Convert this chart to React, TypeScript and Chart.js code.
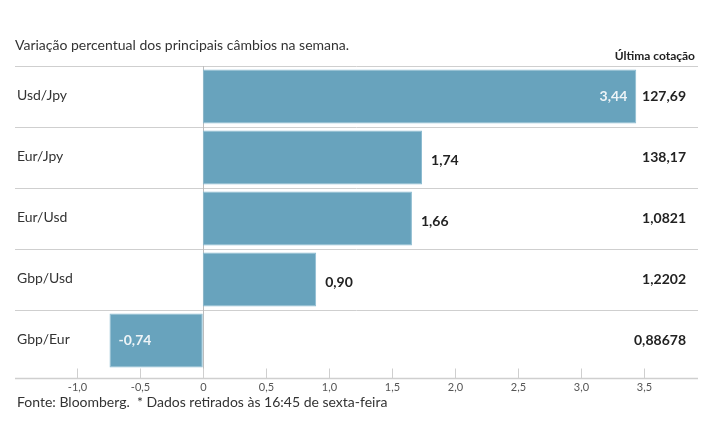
import React, { useEffect, useRef } from 'react';
import { Chart, registerables } from 'chart.js';

Chart.register(...registerables);

const title = 'Variação percentual dos principais câmbios na semana.';
const footer = 'Fonte: Bloomberg.  * Dados retirados às 16:45 de sexta-feira';
const quoteHeader = 'Última cotação';
const categories = ['Usd/Jpy', 'Eur/Jpy', 'Eur/Usd', 'Gbp/Usd', 'Gbp/Eur'];
const variation = [3.44, 1.74, 1.66, 0.9, -0.74];
const lastQuote = ['127,69', '138,17', '1,0821', '1,2202', '0,88678'];
const tickValues = [-1, -0.5, 0, 0.5, 1, 1.5, 2, 2.5, 3, 3.5];

const FONT = 'Lato, "Open Sans", sans-serif';
const BAR = '#68a3bd';

const fmt = (v: number, d: number) => (v === 0 ? '0' : v.toFixed(d).replace('.', ','));

const overlay = {
  id: 'overlay',
  beforeDatasetsDraw(chart: any) {
    const { ctx, chartArea } = chart;
    const x = chart.scales.x;
    const y = chart.scales.y;
    ctx.save();
    ctx.strokeStyle = '#cfcfcf';
    ctx.lineWidth = 1;
    const rowH = y.getPixelForValue(1) - y.getPixelForValue(0);
    categories.forEach((_, i) => {
      const yy = Math.round(y.getPixelForValue(i) - rowH / 2) + 0.5;
      ctx.beginPath();
      ctx.moveTo(chartArea.left, yy);
      ctx.lineTo(chartArea.right, yy);
      ctx.stroke();
    });
    const axisY = chartArea.bottom + 7.5;
    const x0 = Math.round(x.getPixelForValue(0)) + 0.5;
    ctx.strokeStyle = '#bdbdbd';
    ctx.beginPath();
    ctx.moveTo(x0, chartArea.top);
    ctx.lineTo(x0, axisY);
    ctx.stroke();
    ctx.restore();
  },
  afterDraw(chart: any) {
    const { ctx, chartArea } = chart;
    const x = chart.scales.x;
    const y = chart.scales.y;
    ctx.save();
    ctx.fillStyle = '#333';
    ctx.font = `14px ${FONT}`;
    ctx.textBaseline = 'middle';
    ctx.textAlign = 'left';
    ctx.fillText(title, 15, 45);
    ctx.fillText(footer, 17, 402);
    ctx.font = `bold 12px ${FONT}`;
    ctx.textAlign = 'right';
    ctx.fillStyle = '#222';
    ctx.fillText(quoteHeader, 695, 56);
    const axisY = chartArea.bottom + 7.5;
    ctx.strokeStyle = '#cfcfcf';
    ctx.lineWidth = 1.5;
    ctx.beginPath();
    ctx.moveTo(chartArea.left, axisY);
    ctx.lineTo(chartArea.right, axisY);
    ctx.stroke();
    ctx.lineWidth = 1;
    ctx.font = `11px ${FONT}`;
    ctx.fillStyle = '#555';
    ctx.textAlign = 'center';
    tickValues.forEach((v) => {
      const px = Math.round(x.getPixelForValue(v)) + 0.5;
      ctx.beginPath();
      ctx.moveTo(px, axisY - 10);
      ctx.lineTo(px, axisY);
      ctx.stroke();
      ctx.fillText(fmt(v, 1), px, axisY + 9);
    });
    categories.forEach((c, i) => {
      const yy = y.getPixelForValue(i);
      ctx.font = `14px ${FONT}`;
      ctx.fillStyle = '#333';
      ctx.textAlign = 'left';
      ctx.fillText(c, 17, yy - 1);
      const v = variation[i];
      const end = x.getPixelForValue(v);
      const inside = v < 0 || v > 3;
      ctx.font = `bold 14px ${FONT}`;
      const label = fmt(v, 2);
      if (inside) {
        ctx.fillStyle = '#eef4f7';
        if (v < 0) {
          ctx.textAlign = 'left';
          ctx.fillText(label, end + 9, yy);
        } else {
          ctx.textAlign = 'right';
          ctx.fillText(label, end - 9, yy);
        }
      } else {
        ctx.fillStyle = '#222';
        ctx.textAlign = 'left';
        ctx.fillText(label, end + 9, yy + 3);
      }
      ctx.fillStyle = '#222';
      ctx.textAlign = 'right';
      ctx.fillText(lastQuote[i], 686, yy);
    });
    ctx.restore();
  },
};

export default function App() {
  const ref = useRef<HTMLCanvasElement | null>(null);
  useEffect(() => {
    if (!ref.current) return;
    const chart = new Chart(ref.current, {
      type: 'bar',
      data: {
        labels: categories,
        datasets: [
          {
            data: variation,
            backgroundColor: BAR,
            borderColor: '#8dbcd1',
            borderWidth: 1,
            borderSkipped: false,
            barPercentage: 0.885,
            categoryPercentage: 1,
          },
        ],
      },
      options: {
        indexAxis: 'y',
        responsive: false,
        animation: false,
        layout: { padding: { left: 15, right: 17, top: 66, bottom: 74 } },
        plugins: { legend: { display: false }, tooltip: { enabled: false }, title: { display: false } },
        scales: {
          x: { type: 'linear', min: -1.49, max: 3.93, display: false },
          y: { type: 'category', display: false },
        },
      },
      plugins: [overlay],
    });
    return () => chart.destroy();
  }, []);
  return (
    <div style={{ position: 'fixed', left: 0, top: 0, width: 715, height: 445, background: '#fff' }}>
      <canvas ref={ref} width={715} height={445} style={{ width: 715, height: 445, display: 'block' }} />
    </div>
  );
}
